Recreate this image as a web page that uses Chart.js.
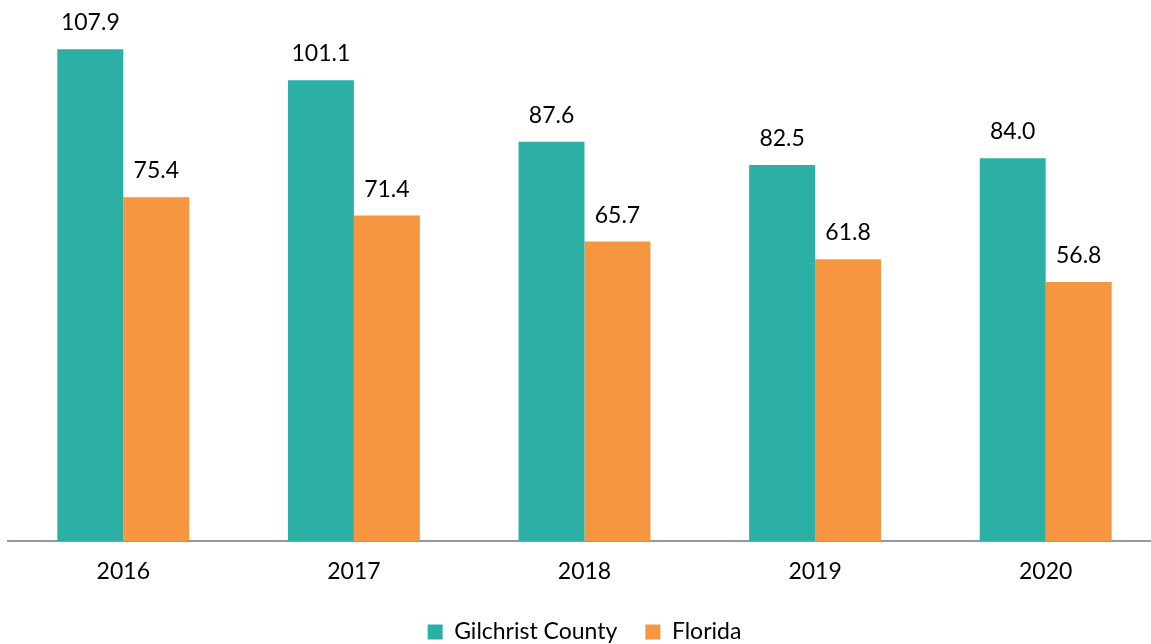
<!DOCTYPE html>
<html>
<head>
<meta charset="utf-8">
<script src="https://cdn.jsdelivr.net/npm/chart.js@4"></script>
<style>
  html, body { margin: 0; padding: 0; background: #fff; overflow: hidden; }
  #wrap { width: 1161px; height: 644px; position: relative; }
</style>
</head>
<body>
<div id="wrap"><canvas id="rateChart"></canvas></div>
<script>
// chart data
const years = ['2016', '2017', '2018', '2019', '2020'];
const gilchristValues = [107.9, 101.1, 87.6, 82.5, 84.0];
const floridaValues = [75.4, 71.4, 65.7, 61.8, 56.8];

const TEAL = '#2CAFA5';
const ORANGE = '#F79640';
const FONT = 'Lato, "Open Sans", sans-serif';

// draws the value above each bar
const valueLabels = {
    id: 'valueLabels',
    afterDatasetsDraw(chart) {
        const ctx = chart.ctx;
        ctx.save();
        ctx.font = '23px ' + FONT;
        ctx.fillStyle = '#000';
        ctx.textAlign = 'center';
        ctx.textBaseline = 'alphabetic';
        chart.data.datasets.forEach(function(ds, i) {
            chart.getDatasetMeta(i).data.forEach(function(bar, j) {
                ctx.fillText(ds.data[j].toFixed(1), bar.x, bar.y - 19);
            });
        });
        ctx.restore();
    }
};

document.addEventListener("DOMContentLoaded", function() {
    const ctx = document.getElementById('rateChart').getContext('2d');

    new Chart(ctx, {
        type: 'bar',
        data: {
            labels: years,
            datasets: [{
                label: 'Gilchrist County',
                data: gilchristValues,
                backgroundColor: TEAL,
                barPercentage: 1,
                categoryPercentage: 0.572
            }, {
                label: 'Florida',
                data: floridaValues,
                backgroundColor: ORANGE,
                barPercentage: 1,
                categoryPercentage: 0.572
            }]
        },
        options: {
            responsive: true,
            maintainAspectRatio: false,
            animation: false,
            layout: {
                padding: { left: 8, right: 0, top: 0, bottom: -9.5 }
            },
            plugins: {
                tooltip: { enabled: false },
                legend: {
                    position: 'bottom',
                    labels: {
                        boxWidth: 15,
                        boxHeight: 15,
                        padding: 28,
                        color: '#000',
                        font: { family: FONT, size: 23 }
                    }
                }
            },
            scales: {
                x: {
                    grid: { display: false },
                    border: { display: true, color: '#8E9AA4', width: 2 },
                    ticks: {
                        color: '#000',
                        padding: 9,
                        font: { family: FONT, size: 23 }
                    },
                    afterFit: function(scale) {
                        scale.height = 51.5;
                    }
                },
                y: {
                    display: false,
                    min: 0,
                    max: 118.7
                }
            }
        },
        plugins: [valueLabels]
    });
});
</script>
</body>
</html>
